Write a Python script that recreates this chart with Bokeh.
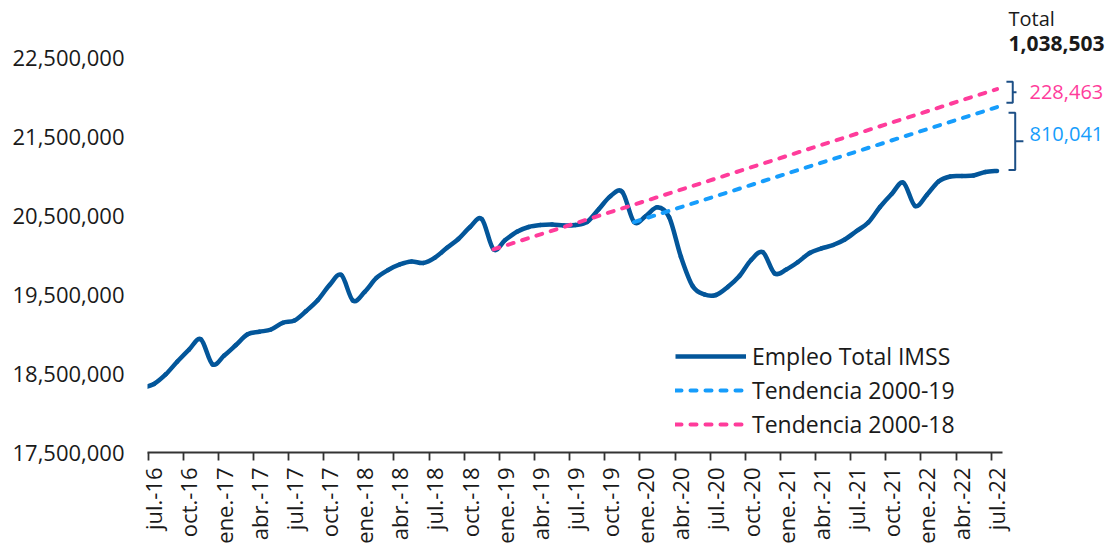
import math
from bokeh.plotting import figure
from bokeh.models import (FixedTicker, NumeralTickFormatter, LinearAxis, Legend,
                          LegendItem, Label, Range1d, ColumnDataSource)
from bokeh.embed import file_html
from bokeh.resources import INLINE

# ---------------- data ----------------
# monthly IMSS employment, jun-16 .. jul-22 (plotted at mid-month)
meses = ["jun.-16", "jul.-16", "ago.-16", "sep.-16", "oct.-16", "nov.-16", "dic.-16",
         "ene.-17", "feb.-17", "mar.-17", "abr.-17", "may.-17", "jun.-17", "jul.-17", "ago.-17", "sep.-17", "oct.-17", "nov.-17", "dic.-17",
         "ene.-18", "feb.-18", "mar.-18", "abr.-18", "may.-18", "jun.-18", "jul.-18", "ago.-18", "sep.-18", "oct.-18", "nov.-18", "dic.-18",
         "ene.-19", "feb.-19", "mar.-19", "abr.-19", "may.-19", "jun.-19", "jul.-19", "ago.-19", "sep.-19", "oct.-19", "nov.-19", "dic.-19",
         "ene.-20", "feb.-20", "mar.-20", "abr.-20", "may.-20", "jun.-20", "jul.-20", "ago.-20", "sep.-20", "oct.-20", "nov.-20", "dic.-20",
         "ene.-21", "feb.-21", "mar.-21", "abr.-21", "may.-21", "jun.-21", "jul.-21", "ago.-21", "sep.-21", "oct.-21", "nov.-21", "dic.-21",
         "ene.-22", "feb.-22", "mar.-22", "abr.-22", "may.-22", "jun.-22", "jul.-22"]
empleo = [18318000, 18368000, 18489000, 18653000, 18805000, 18935000, 18618000,
          18729000, 18862000, 18998000, 19030000, 19059000, 19144000, 19173000, 19293000, 19433000, 19623000, 19750000, 19424000,
          19537000, 19712000, 19813000, 19883000, 19921000, 19902000, 19971000, 20092000, 20206000, 20358000, 20459000, 20075000,
          20193000, 20298000, 20358000, 20383000, 20390000, 20377000, 20383000, 20424000, 20586000, 20751000, 20802000, 20421000,
          20497000, 20608000, 20482000, 19982000, 19610000, 19503000, 19496000, 19598000, 19737000, 19940000, 20038000, 19771000,
          19819000, 19914000, 20029000, 20086000, 20130000, 20200000, 20307000, 20415000, 20611000, 20776000, 20920000, 20624000,
          20764000, 20935000, 20998000, 21004000, 21011000, 21055000, 21068000]

brecha_19 = 810041
brecha_18 = 228463
brecha_total = 1038503

tick_labels = ["jul.-16", "oct.-16", "ene.-17", "abr.-17", "jul.-17", "oct.-17", "ene.-18", "abr.-18",
               "jul.-18", "oct.-18", "ene.-19", "abr.-19", "jul.-19", "oct.-19", "ene.-20", "abr.-20",
               "jul.-20", "oct.-20", "ene.-21", "abr.-21", "jul.-21", "oct.-21", "ene.-22", "abr.-22", "jul.-22"]
y_ticks = [17500000, 18500000, 19500000, 20500000, 21500000, 22500000]

# ---------------- derived positions ----------------
x_pos = [i - 0.5 for i in range(len(meses))]          # jun-16 at -0.5, jul-16 at 0.5 ...
ix = {m: i for i, m in enumerate(meses)}
last_x = x_pos[-1]
last_v = empleo[-1]
fin_19 = last_v + brecha_19
fin_18 = fin_19 + brecha_18
t19_x = [x_pos[ix["dic.-19"]], last_x]
t19_y = [empleo[ix["dic.-19"]], fin_19]
t18_x = [x_pos[ix["dic.-18"]], last_x]
t18_y = [empleo[ix["dic.-18"]], fin_18]

C_MAIN = "#03569a"
C_T19 = "#169dfc"
C_T18 = "#ff3c9b"
C_BR = "#1c4f86"
FONT = "Open Sans"
TXT = "#1a1a1a"

PX_M = 11.71      # px per month
PX_Y = 78.9       # px per million
FW, FH = 960, 444
x0 = -0.05
p = figure(frame_width=FW, frame_height=FH,
           x_range=Range1d(x0, x0 + FW / PX_M),
           y_range=Range1d(17500000, 17500000 + FH / PX_Y * 1e6),
           output_backend="svg", toolbar_location=None,
           min_border_left=147, min_border_right=0, min_border_top=8, min_border_bottom=0)
p.outline_line_color = None
p.xgrid.visible = False
p.ygrid.visible = False
p.background_fill_color = "white"
p.border_fill_color = "white"

# smoothed line (Excel-style): cubic Bezier segments whose control points
# come from the neighbouring data points
n = len(x_pos)
bx0, by0, bx1, by1, bcx0, bcy0, bcx1, bcy1 = [], [], [], [], [], [], [], []
for i in range(n - 1):
    xa, ya = x_pos[max(i - 1, 0)], empleo[max(i - 1, 0)]
    xb, yb = x_pos[i], empleo[i]
    xc, yc = x_pos[i + 1], empleo[i + 1]
    xd, yd = x_pos[min(i + 2, n - 1)], empleo[min(i + 2, n - 1)]
    bx0.append(xb); by0.append(yb); bx1.append(xc); by1.append(yc)
    bcx0.append(xb + (xc - xa) / 6); bcy0.append(yb + (yc - ya) / 6)
    bcx1.append(xc - (xd - xb) / 6); bcy1.append(yc - (yd - yb) / 6)
bsrc = ColumnDataSource(dict(x0=bx0, y0=by0, x1=bx1, y1=by1,
                             cx0=bcx0, cy0=bcy0, cx1=bcx1, cy1=bcy1))
p.bezier(x0="x0", y0="y0", x1="x1", y1="y1", cx0="cx0", cy0="cy0", cx1="cx1", cy1="cy1",
         source=bsrc, line_color=C_MAIN, line_width=4.5, line_cap="round")
# legend proxy with the same style (a single point: draws no segment itself)
r_main = p.line(x=[last_x], y=[last_v], line_color=C_MAIN, line_width=4.5)

r19 = p.line(t19_x, t19_y, line_color=C_T19, line_width=4, line_dash="6 9",
             line_cap="round")
r18 = p.line(t18_x, t18_y, line_color=C_T18, line_width=4, line_dash="6 9",
             line_cap="round")

# brackets (built from the series end values)
sb_lo, sb_hi = fin_19 + 55000, fin_18 + 92000
bb_lo, bb_hi = last_v + 12000, fin_19 - 71000
bx = [[last_x + 0.80, last_x + 1.34, last_x + 1.34, last_x + 0.80],
      [last_x + 1.34, last_x + 1.66],
      [last_x + 0.98, last_x + 1.55, last_x + 1.55, last_x + 0.98],
      [last_x + 1.55, last_x + 2.25]]
by = [[sb_hi, sb_hi, sb_lo, sb_lo],
      [(sb_hi + sb_lo) / 2, (sb_hi + sb_lo) / 2],
      [bb_hi, bb_hi, bb_lo, bb_lo],
      [(bb_hi + bb_lo) / 2, (bb_hi + bb_lo) / 2]]
p.multi_line(bx, by, line_color=C_BR, line_width=2)

# ---------------- axes ----------------
xt = [3 * k for k in range(len(tick_labels))]
p.xaxis.ticker = FixedTicker(ticks=xt)
p.xaxis.major_label_overrides = {t: "" for t in xt}
p.xaxis.major_label_text_font_size = "0px"
p.xaxis.major_label_standoff = 0
p.xaxis.major_tick_in = 0
p.xaxis.major_tick_out = 8
p.xaxis.minor_tick_line_color = None
p.xaxis.axis_line_color = "#333333"
p.xaxis.axis_line_width = 1.8
p.xaxis.major_tick_line_color = "#333333"
p.xaxis.major_tick_line_width = 1.8
p.xaxis.bounds = (x0, 73)

off = 0.45
lab_ticks = [t + off for t in xt]
ax2 = LinearAxis(ticker=FixedTicker(ticks=lab_ticks),
                 major_label_overrides={t: l for t, l in zip(lab_ticks, tick_labels)},
                 major_label_orientation=math.pi / 2,
                 axis_line_color=None, major_tick_line_color=None, minor_tick_line_color=None,
                 major_tick_in=0, major_tick_out=0, major_label_standoff=7,
                 major_label_text_font=FONT, major_label_text_font_size="22px",
                 major_label_text_color=TXT)
p.add_layout(ax2, "below")

p.yaxis.ticker = FixedTicker(ticks=y_ticks)
p.yaxis.formatter = NumeralTickFormatter(format="0,0")
p.yaxis.axis_line_color = None
p.yaxis.major_tick_line_color = None
p.yaxis.minor_tick_line_color = None
p.yaxis.major_tick_in = 0
p.yaxis.major_tick_out = 0
p.yaxis.major_label_standoff = 23
p.yaxis.major_label_text_font = FONT
p.yaxis.major_label_text_font_size = "22px"
p.yaxis.major_label_text_color = TXT

# ---------------- legend ----------------
legend = Legend(items=[LegendItem(label="Empleo Total IMSS", renderers=[r_main]),
                       LegendItem(label="Tendencia 2000-19", renderers=[r19]),
                       LegendItem(label="Tendencia 2000-18", renderers=[r18])],
                location=(528, 11), orientation="vertical",
                glyph_width=71, glyph_height=34, label_height=34, label_standoff=6,
                spacing=0, padding=0, margin=0,
                border_line_alpha=0, background_fill_alpha=0,
                label_text_font=FONT, label_text_font_size="23px", label_text_color=TXT)
p.add_layout(legend)

# ---------------- annotations ----------------
def fmt(v):
    return f"{v:,}"

p.add_layout(Label(x=last_x + 0.98, y=fin_18 + 890000, text="Total",
                   text_font=FONT, text_font_size="20px", text_color=TXT,
                   text_baseline="middle", text_align="left"))
p.add_layout(Label(x=last_x + 0.98, y=fin_18 + 575000, text=fmt(brecha_total),
                   text_font=FONT, text_font_size="21px", text_font_style="bold",
                   text_color=TXT, text_baseline="middle", text_align="left"))
p.add_layout(Label(x=last_x + 2.77, y=fin_18 - 40000, text=fmt(brecha_18),
                   text_font=FONT, text_font_size="20px", text_color=C_T18,
                   text_baseline="middle", text_align="left"))
p.add_layout(Label(x=last_x + 2.77, y=(last_v + fin_19) / 2 + 70000, text=fmt(brecha_19),
                   text_font=FONT, text_font_size="20px", text_color=C_T19,
                   text_baseline="middle", text_align="left"))

open("out.html", "w").write(file_html(p, INLINE))
